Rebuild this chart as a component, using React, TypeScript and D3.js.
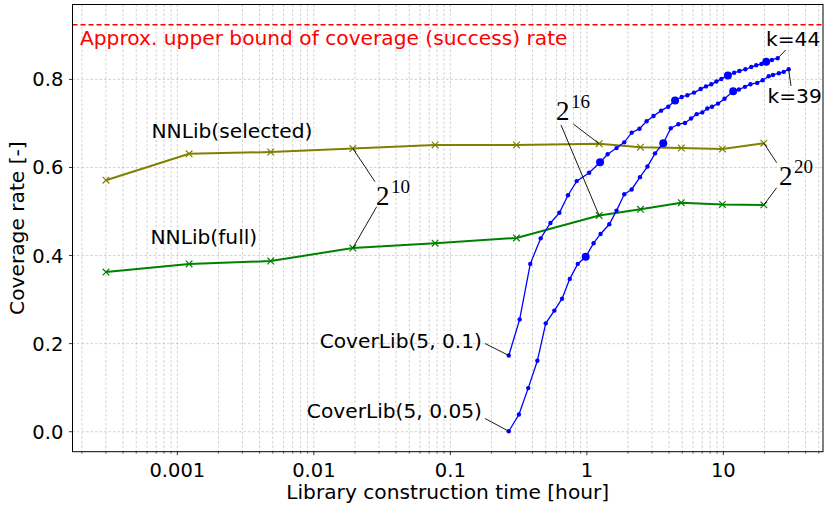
import { useMemo } from 'react';
import * as d3 from 'd3';

// NNLib: library construction time [hour] for sizes 2^4, 2^6, 2^8, 2^10, 2^12, 2^14, 2^16, 2^17, 2^18, 2^19, 2^20
const nnTimes = [0.0003, 0.00122, 0.00483, 0.0193, 0.0773, 0.305, 1.23, 2.47, 4.92, 9.84, 19.8];
const nnSelected = [0.571, 0.631, 0.635, 0.643, 0.651, 0.651, 0.654, 0.646, 0.644, 0.642, 0.655];
const nnFull = [0.3625, 0.381, 0.3875, 0.417, 0.428, 0.44, 0.491, 0.505, 0.52, 0.516, 0.515];

// CoverLib(5, 0.1)
const cover01Time = [0.268, 0.322, 0.385, 0.459, 0.541, 0.629, 0.728, 0.843, 1.04, 1.25, 1.42, 1.65, 1.88, 2.13, 2.43, 2.74, 3.08, 3.5, 3.95, 4.43, 4.95, 5.45, 6.1, 6.82, 7.46, 8.16, 8.89, 9.67, 10.8, 12.0, 13.1, 14.5, 16.0, 17.4, 19.0, 20.6, 22.7, 25.0];
const cover01Rate = [0.173, 0.255, 0.381, 0.439, 0.474, 0.497, 0.537, 0.569, 0.588, 0.612, 0.63, 0.644, 0.657, 0.679, 0.688, 0.705, 0.717, 0.729, 0.738, 0.752, 0.76, 0.764, 0.77, 0.778, 0.784, 0.789, 0.795, 0.801, 0.809, 0.815, 0.819, 0.823, 0.828, 0.832, 0.835, 0.84, 0.844, 0.848];
const cover01Big = [9, 19, 28, 35];

// CoverLib(5, 0.05)
const cover005Time = [0.268, 0.318, 0.372, 0.434, 0.5, 0.578, 0.658, 0.75, 0.858, 0.981, 1.12, 1.26, 1.46, 1.65, 1.88, 2.13, 2.45, 2.78, 3.16, 3.63, 4.12, 4.68, 5.24, 5.8, 6.38, 7.01, 7.63, 8.26, 9.14, 10.2, 11.8, 13.0, 14.4, 15.8, 17.7, 19.4, 21.5, 23.1, 25.5, 27.7, 30.1];
const cover005Rate = [0.001, 0.039, 0.099, 0.161, 0.246, 0.275, 0.302, 0.347, 0.381, 0.397, 0.428, 0.449, 0.471, 0.502, 0.539, 0.55, 0.578, 0.602, 0.632, 0.655, 0.689, 0.698, 0.701, 0.711, 0.721, 0.725, 0.734, 0.738, 0.745, 0.756, 0.773, 0.777, 0.783, 0.789, 0.792, 0.798, 0.807, 0.81, 0.814, 0.817, 0.823];
const cover005Big = [9, 19, 30];

const upperBound = 0.924;

const xTicks = [0.001, 0.01, 0.1, 1, 10];
const xTickLabels = ['0.001', '0.01', '0.1', '1', '10'];
const yTicks = [0, 0.2, 0.4, 0.6, 0.8];
const yTickLabels = ['0.0', '0.2', '0.4', '0.6', '0.8'];

const width = 831;
const height = 515;
const left = 72.5;
const right = 823;
const top = 4.5;
const bottom = 451.7;
const font = '"DejaVu Sans", sans-serif';
const mathFont = '"Liberation Serif", "DejaVu Serif", serif';
const labelSize = 20.2;

type Pt = [number, number];

const Cross = ({ x, y, color }: { x: number; y: number; color: string }) => (
  <g stroke={color} strokeWidth={1.2}>
    <line x1={x - 3.3} y1={y - 3.3} x2={x + 3.3} y2={y + 3.3} />
    <line x1={x - 3.3} y1={y + 3.3} x2={x + 3.3} y2={y - 3.3} />
  </g>
);

const Pow = ({ x, y, exp }: { x: number; y: number; exp: string }) => (
  <text x={x} y={y} fontFamily={mathFont} fontSize={27} fill="#000">
    2<tspan dx={1.5} dy={-12} fontSize={19}>{exp}</tspan>
  </text>
);

export default function App() {
  const x = useMemo(() => d3.scaleLog().domain([10 ** -3.768, 10 ** 1.730]).range([left, right]), []);
  const y = useMemo(() => d3.scaleLinear().domain([-0.0454, 0.97]).range([bottom, top]), []);

  const line = d3.line<Pt>().x(d => x(d[0])).y(d => y(d[1]));

  const sel: Pt[] = nnTimes.map((t, i) => [t, nnSelected[i]]);
  const full: Pt[] = nnTimes.map((t, i) => [t, nnFull[i]]);
  const c01: Pt[] = cover01Time.map((t, i) => [t, cover01Rate[i]]);
  const c005: Pt[] = cover005Time.map((t, i) => [t, cover005Rate[i]]);

  // minor ticks 2..9 x decade inside the domain
  const [x0, x1] = x.domain();
  const minor: number[] = [];
  for (let e = -4; e <= 1; e++) {
    for (let m = 2; m <= 9; m++) {
      const v = m * 10 ** e;
      if (v >= x0 && v <= x1) minor.push(v);
    }
  }

  const px = (p: Pt): Pt => [x(p[0]), y(p[1])];
  // annotation leader lines: text-side pixel end -> data point
  const leaders: [Pt, Pt][] = [
    [[485, 343.5], px(c01[0])],
    [[485, 418.5], px(c005[0])],
    [[375, 181.7], px(sel[3])],
    [[376.7, 206.7], px(full[3])],
    [[573.3, 124], px(sel[6])],
    [[561, 125], px(full[6])],
    [[776.7, 162.7], px(sel[10])],
    [[776.7, 187.7], px(full[10])],
    [[785.7, 50], px(c01[c01.length - 1])],
    [[791, 86], px(c005[c005.length - 1])],
  ];

  const gridStyle = { stroke: '#b0b0b0', strokeWidth: 0.8, strokeDasharray: '2.5,2', opacity: 0.7 };

  return (
    <svg width={width} height={height} style={{ position: 'absolute', left: 0, top: 0, background: '#fff' }}>
      <rect x={0} y={0} width={width} height={height} fill="#fff" />
      {/* grid */}
      <g>
        {minor.map(v => (
          <line key={'mg' + v} x1={x(v)} x2={x(v)} y1={top} y2={bottom} {...gridStyle} />
        ))}
        {xTicks.map(v => (
          <line key={'xg' + v} x1={x(v)} x2={x(v)} y1={top} y2={bottom} {...gridStyle} />
        ))}
        {yTicks.map(v => (
          <line key={'yg' + v} x1={left} x2={right} y1={y(v)} y2={y(v)} {...gridStyle} />
        ))}
      </g>

      {/* upper bound */}
      <line x1={left} x2={right} y1={y(upperBound)} y2={y(upperBound)} stroke="#ff0000" strokeWidth={1.5} strokeDasharray="5,3" />
      <text x={80} y={45} fontFamily={font} fontSize={labelSize} fill="#ff0000">
        Approx. upper bound of coverage (success) rate
      </text>

      {/* NNLib */}
      <path d={line(sel) ?? ''} fill="none" stroke="#808000" strokeWidth={2} />
      {sel.map((p, i) => <Cross key={'s' + i} x={x(p[0])} y={y(p[1])} color="#808000" />)}
      <path d={line(full) ?? ''} fill="none" stroke="#008000" strokeWidth={2} />
      {full.map((p, i) => <Cross key={'f' + i} x={x(p[0])} y={y(p[1])} color="#008000" />)}

      {/* CoverLib */}
      <path d={line(c01) ?? ''} fill="none" stroke="#0000ff" strokeWidth={1.3} />
      {c01.map((p, i) => (
        <circle key={'a' + i} cx={x(p[0])} cy={y(p[1])} r={cover01Big.includes(i) ? 4 : 2.2} fill="#0000ff" />
      ))}
      <path d={line(c005) ?? ''} fill="none" stroke="#0000ff" strokeWidth={1.3} />
      {c005.map((p, i) => (
        <circle key={'b' + i} cx={x(p[0])} cy={y(p[1])} r={cover005Big.includes(i) ? 4 : 2.2} fill="#0000ff" />
      ))}

      {/* annotations */}
      {leaders.map(([a, b], i) => (
        <line key={'l' + i} x1={a[0]} y1={a[1]} x2={b[0]} y2={b[1]} stroke="#000" strokeWidth={0.9} />
      ))}
      <g fontFamily={font} fontSize={labelSize} fill="#000">
        <text x={482} y={348} textAnchor="end">CoverLib(5, 0.1)</text>
        <text x={482} y={418} textAnchor="end">CoverLib(5, 0.05)</text>
        <text x={151.5} y={138}>NNLib(selected)</text>
        <text x={150.5} y={244}>NNLib(full)</text>
        <text x={766} y={46}>k=44</text>
        <text x={767.5} y={102.7}>k=39</text>
      </g>
      <Pow x={376} y={205} exp="10" />
      <Pow x={556} y={120} exp="16" />
      <Pow x={779} y={185} exp="20" />

      {/* axes */}
      <g fontFamily={font} fontSize={19.5} fill="#000">
        {xTicks.map((v, i) => (
          <g key={'xt' + v}>
            <line x1={x(v)} x2={x(v)} y1={bottom} y2={bottom + 3.5} stroke="#000" strokeWidth={0.8} />
            <text x={x(v)} y={476.5} textAnchor="middle">{xTickLabels[i]}</text>
          </g>
        ))}
        {minor.map(v => (
          <line key={'xm' + v} x1={x(v)} x2={x(v)} y1={bottom} y2={bottom + 2} stroke="#000" strokeWidth={0.6} />
        ))}
        {yTicks.map((v, i) => (
          <g key={'yt' + v}>
            <line x1={left - 3.5} x2={left} y1={y(v)} y2={y(v)} stroke="#000" strokeWidth={0.8} />
            <text x={63.3} y={y(v)} dy="0.36em" textAnchor="end">{yTickLabels[i]}</text>
          </g>
        ))}
        <text x={(left + right) / 2} y={499} textAnchor="middle" fontSize={labelSize}>Library construction time [hour]</text>
        <text transform={`translate(24,${(top + bottom) / 2}) rotate(-90)`} textAnchor="middle" fontSize={labelSize}>Coverage rate [-]</text>
      </g>
      <rect x={left} y={top} width={right - left} height={bottom - top} fill="none" stroke="#000" strokeWidth={1} />
    </svg>
  );
}
